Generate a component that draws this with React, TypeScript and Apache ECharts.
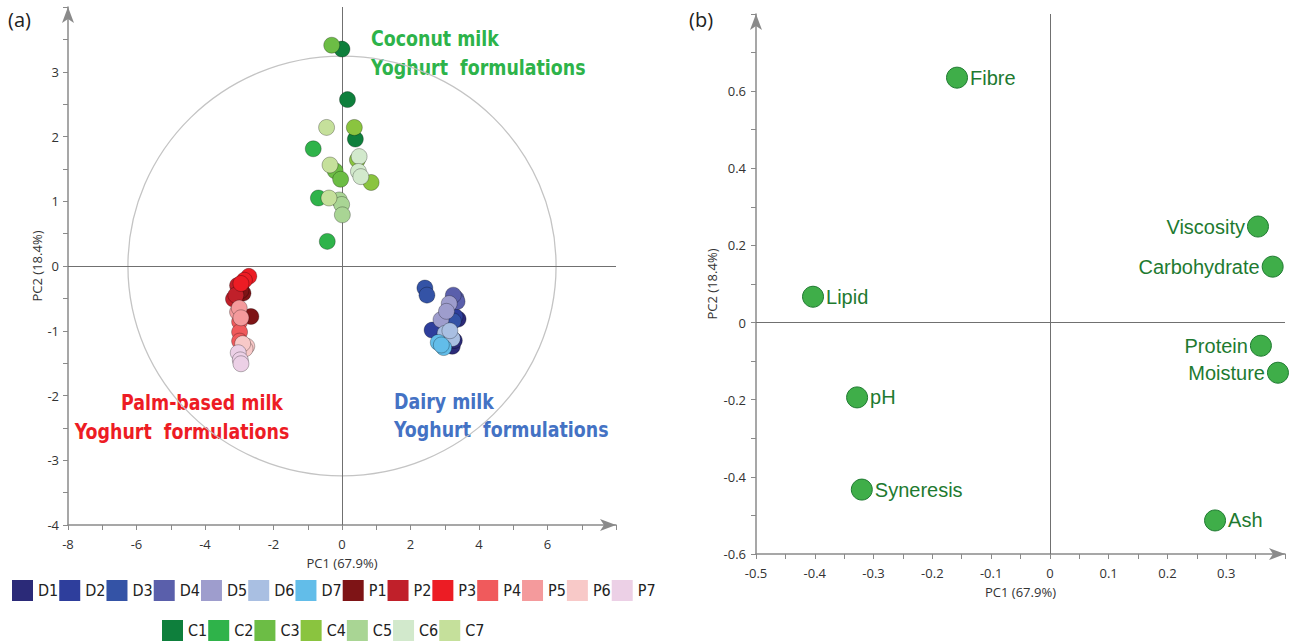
import React, { useEffect, useRef } from "react";
import * as echarts from "echarts";

// ---------- Score plot (a) data: PC1, PC2 per replicate ----------
const D1 = [[3.39, -0.82], [3.22, -1.24], [3.28, -1.15]];
const D2 = [[3.19, -0.8], [2.63, -0.99], [3.3, -0.78]];
const D3 = [[2.42, -0.34], [2.48, -0.45], [3.25, -0.85]];
const D4 = [[3.33, -0.5], [3.36, -0.55], [3.25, -0.45]];
const D5 = [[3.13, -0.58], [2.89, -0.83], [3.05, -0.7]];
const D6 = [[3.01, -1.04], [3.22, -1.12], [3.15, -1.0]];
const D7 = [[2.81, -1.18], [2.97, -1.26], [2.9, -1.22]];

const P1 = [[-2.89, -0.42], [-2.66, -0.78], [-2.95, -0.38]];
const P2 = [[-3.17, -0.51], [-3.05, -0.3], [-3.1, -0.45]];
const P3 = [[-2.72, -0.16], [-2.85, -0.22], [-2.95, -0.27]];
const P4 = [[-2.99, -0.86], [-2.99, -1.02], [-2.99, -1.16]];
const P5 = [[-3.05, -0.71], [-3.0, -0.65], [-2.95, -0.8]];
const P6 = [[-2.78, -1.24], [-2.83, -1.28], [-2.9, -1.2]];
const P7 = [[-3.03, -1.34], [-2.97, -1.45], [-2.95, -1.51]];

const C1 = [[0.0, 3.35], [0.16, 2.57], [0.39, 1.96]];
const C2 = [[-0.84, 1.81], [-0.69, 1.05], [-0.43, 0.38]];
const C3 = [[-0.3, 3.41], [-0.2, 1.47], [-0.04, 1.34]];
const C4 = [[0.36, 2.14], [0.45, 1.64], [0.85, 1.29]];
const C5 = [[-0.08, 1.02], [-0.01, 0.95], [0.01, 0.79]];
const C6 = [[0.5, 1.69], [0.48, 1.46], [0.55, 1.38]];
const C7 = [[-0.45, 2.14], [-0.35, 1.56], [-0.38, 1.05]];

const row1Names = ["D1", "D2", "D3", "D4", "D5", "D6", "D7", "P1", "P2", "P3", "P4", "P5", "P6", "P7"];
const row2Names = ["C1", "C2", "C3", "C4", "C5", "C6", "C7"];
const sampleNames = [...row1Names, ...row2Names];
const sampleScores = [D1, D2, D3, D4, D5, D6, D7, P1, P2, P3, P4, P5, P6, P7, C1, C2, C3, C4, C5, C6, C7];
const sampleColors = [
  "#2b2a78", "#2e3e9c", "#3453a6", "#5a5fab", "#9e9dcd", "#a9bfe2", "#62bde9",
  "#7e1416", "#c0202a", "#ec1c24", "#f05a5c", "#f49a9c", "#f8c9c8", "#ecd0e6",
  "#0e7f3c", "#2fb34a", "#6cbd45", "#8ac43f", "#a9d594", "#d2e9cc", "#c5e09b",
];

// Hotelling ellipse semi-axes (PC1, PC2)
const ELLIPSE_RX = 6.25;
const ELLIPSE_RY = 3.24;

// ---------- Loading plot (b) data ----------
const variableNames = ["Fibre", "Viscosity", "Carbohydrate", "Lipid", "Protein", "Moisture", "pH", "Syneresis", "Ash"];
const loadingPC1 = [-0.158, 0.354, 0.379, -0.403, 0.359, 0.388, -0.328, -0.32, 0.281];
const loadingPC2 = [0.635, 0.249, 0.145, 0.067, -0.06, -0.13, -0.194, -0.433, -0.513];
const labelSide = ["right", "left", "left", "right", "left", "left", "right", "right", "right"];

const SANS = "'Open Sans', 'Noto Sans', sans-serif";
const NARROW = "'DejaVu Sans Condensed', 'Liberation Sans', sans-serif";
const ARIAL = "'Liberation Sans', Arial, sans-serif";
const AXIS_COLOR = "#8a8a8a";
const LABEL_COLOR = "#333";

function axisBase(extra: any) {
  return {
    type: "value",
    axisLine: {
      show: true,
      onZero: false,
      lineStyle: { color: AXIS_COLOR, width: 1.5 },
      symbol: ["none", "arrow"],
      symbolSize: [9, 16],
    },
    axisTick: { show: true, length: 5, lineStyle: { color: AXIS_COLOR } },
    minorTick: { show: true, splitNumber: 2, length: 5, lineStyle: { color: AXIS_COLOR } },
    splitLine: { show: false },
    minorSplitLine: { show: false },
    nameLocation: "middle",
    nameTextStyle: { fontSize: 13, color: LABEL_COLOR, fontFamily: SANS },
    ...extra,
  };
}

function bigText(text: string, x: number, y: number, fill: string, align: string) {
  return {
    type: "text",
    x,
    y,
    scaleX: 0.88,
    style: { text, fontSize: 22, fontWeight: "bold", fill, fontFamily: NARROW, align, verticalAlign: "middle" },
  };
}

export default function App() {
  const ref = useRef<HTMLDivElement>(null);

  useEffect(() => {
    if (!ref.current) return;
    const chart = echarts.init(ref.current, null, { renderer: "svg" });

    const zeroLines = {
      silent: true,
      symbol: "none",
      label: { show: false },
      lineStyle: { color: "#707070", width: 1, type: "solid" },
      data: [{ xAxis: 0 }, { yAxis: 0 }],
    };

    const scoreSeries = sampleNames.map((name, i) => ({
      type: "scatter",
      name,
      xAxisIndex: 0,
      yAxisIndex: 0,
      symbolSize: 16,
      data: sampleScores[i],
      itemStyle: { color: sampleColors[i], borderColor: "rgba(0,0,0,0.28)", borderWidth: 1, opacity: 1 },
      z: 5,
    }));

    const legendCommon = {
      padding: 0,
      itemWidth: 21,
      itemHeight: 21,
      itemGap: 1,
      icon: "rect",
      selectedMode: false,
      itemStyle: { borderWidth: 0 },
      textStyle: { fontSize: 16, color: "#222", fontFamily: NARROW },
    };

    const option: any = {
      animation: false,
      grid: [
        { left: 68, top: 7, width: 548, height: 518 },
        { left: 756, top: 14, width: 529, height: 540 },
      ],
      xAxis: [
        axisBase({
          gridIndex: 0,
          min: -8,
          max: 8,
          interval: 2,
          axisLabel: { fontSize: 13, color: LABEL_COLOR, fontFamily: SANS, showMaxLabel: false, margin: 12 },
          name: "PC1 (67.9%)",
          nameGap: 31,
        }),
        axisBase({
          gridIndex: 1,
          min: -0.5,
          max: 0.4,
          interval: 0.1,
          axisLabel: { fontSize: 13, color: LABEL_COLOR, fontFamily: SANS, showMaxLabel: false, margin: 12 },
          name: "PC1 (67.9%)",
          nameGap: 31,
        }),
      ],
      yAxis: [
        axisBase({
          gridIndex: 0,
          min: -4,
          max: 4,
          interval: 1,
          axisLabel: { fontSize: 13, color: LABEL_COLOR, fontFamily: SANS, showMaxLabel: false, margin: 9 },
          name: "PC2 (18.4%)",
          nameGap: 23,
        }),
        axisBase({
          gridIndex: 1,
          min: -0.6,
          max: 0.8,
          interval: 0.2,
          axisLabel: {
            fontSize: 13,
            color: LABEL_COLOR,
            fontFamily: SANS,
            showMaxLabel: false,
            margin: 10,
            formatter: (v: number) => String(Math.round(v * 10) / 10),
          },
          name: "PC2 (18.4%)",
          nameGap: 38,
        }),
      ],
      legend: [
        { ...legendCommon, data: row1Names, left: 12, top: 580 },
        { ...legendCommon, data: row2Names, left: 162, top: 620 },
      ],
      series: [
        {
          type: "custom",
          name: "ellipse",
          xAxisIndex: 0,
          yAxisIndex: 0,
          silent: true,
          z: 1,
          data: [[0, 0]],
          renderItem: (params: any, api: any) => {
            const c = api.coord([0, 0]);
            const e = api.coord([ELLIPSE_RX, ELLIPSE_RY]);
            return {
              type: "ellipse",
              shape: { cx: c[0], cy: c[1], rx: e[0] - c[0], ry: c[1] - e[1] },
              style: { fill: "none", stroke: "#c4c4c4", lineWidth: 1.3 },
            };
          },
          markLine: zeroLines,
        },
        ...scoreSeries,
        {
          type: "scatter",
          name: "Loadings",
          xAxisIndex: 1,
          yAxisIndex: 1,
          symbolSize: 21,
          itemStyle: { color: "#3fae49", borderColor: "#1f7a31", borderWidth: 1, opacity: 1 },
          data: variableNames.map((n, i) => ({
            name: n,
            value: [loadingPC1[i], loadingPC2[i]],
            label: { position: labelSide[i] },
          })),
          label: {
            show: true,
            formatter: "{b}",
            color: "#1e7a30",
            opacity: 1,
            fontSize: 20,
            fontFamily: ARIAL,
            distance: 2,
          },
          markLine: zeroLines,
          z: 5,
        },
      ],
      graphic: [
        { type: "text", left: 8, top: 9, style: { text: "(a)", fontSize: 20, fill: "#222", fontFamily: SANS } },
        { type: "text", left: 689, top: 9, style: { text: "(b)", fontSize: 20, fill: "#222", fontFamily: SANS } },
        bigText("Coconut milk", 371, 39, "#2db34a", "left"),
        bigText("Yoghurt  formulations", 371, 68, "#2db34a", "left"),
        bigText("Palm-based milk", 202, 403, "#ed1c24", "center"),
        bigText("Yoghurt  formulations", 182, 432, "#ed1c24", "center"),
        bigText("Dairy milk", 394, 402, "#4472c4", "left"),
        bigText("Yoghurt  formulations", 394, 430, "#4472c4", "left"),
      ],
    };

    chart.setOption(option);
    return () => chart.dispose();
  }, []);

  return (
    <div
      ref={ref}
      style={{ position: "absolute", left: 0, top: 0, width: 1292, height: 644, background: "#fff" }}
    />
  );
}
